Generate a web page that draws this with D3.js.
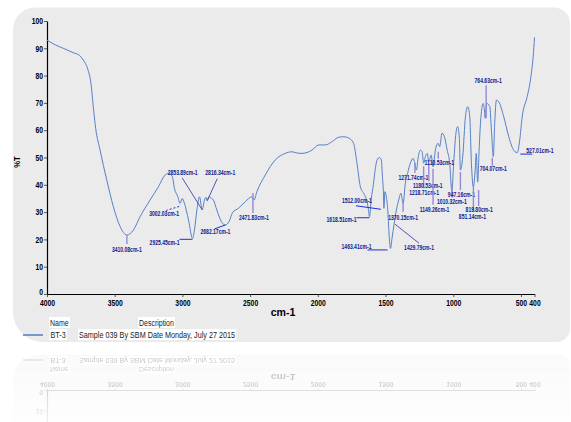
<!DOCTYPE html>
<html>
<head>
<meta charset="utf-8">
<script src="https://cdn.jsdelivr.net/npm/d3@7"></script>
<style>
  html, body { margin: 0; padding: 0; background: #ffffff; }
  svg { display: block; }
</style>
</head>
<body>
<svg id="chart" width="571" height="422"></svg>
<script>
// IR spectrum, sample BT-3: wavenumber (cm-1) and transmittance (%T)
const wavenumbers = [
  4000, 3940, 3880, 3806, 3760, 3732, 3700, 3675, 3655, 3640, 3608, 3559, 3510, 3460,
  3410.08, 3362, 3313, 3239, 3177, 3128, 3103, 3075, 3058, 3035, 3017, 3002.03, 2985,
  2955, 2925.45, 2910, 2893, 2874, 2853.89, 2837, 2826, 2816.34, 2805, 2790, 2771, 2746,
  2709, 2682.17, 2655, 2630, 2586, 2536, 2487, 2471.83, 2450, 2388, 2315, 2241, 2191,
  2150, 2117, 2043, 1994, 1945, 1895, 1847, 1810, 1768, 1736, 1711, 1686, 1662, 1640,
  1628, 1618.51, 1605, 1590, 1578, 1563, 1546, 1531, 1523, 1516, 1512, 1505, 1494, 1484,
  1474, 1463.41, 1452, 1438, 1420, 1403, 1386, 1370.15, 1354, 1337, 1317, 1297, 1284,
  1271.74, 1260, 1243, 1230, 1218.71, 1206, 1192, 1180.53, 1163, 1149.26, 1132, 1112,
  1100, 1083, 1065, 1045, 1026, 1010.32, 997, 977, 967, 955, 947.16, 930, 910, 893, 878,
  866, 851.14, 838, 830, 819.8, 808, 799, 779, 770, 764.63, 752, 730, 718, 704.07, 694,
  681, 664, 627, 590, 565, 548, 527.01, 510, 491, 454, 430, 410, 400
];
const transmittance = [
  93.0, 91.3, 90.0, 88.4, 87.4, 85.7, 82.5, 77.0, 67.0, 60.5, 52.7, 41.8, 32.0, 24.7,
  21.6, 23.4, 28.3, 34.4, 39.3, 43.6, 44.2, 43.0, 38.5, 35.8, 33.2, 35.0, 33.2,
  27.1, 20.4, 23.8, 30.8, 35.6, 30.8, 34.4, 35.4, 34.2, 35.6, 35.2, 34.4, 30.8,
  26.2, 25.3, 26.6, 29.8, 31.4, 33.8, 35.6, 34.4, 37.5, 43.6, 49.1, 51.5, 52.1,
  51.6, 51.5, 52.7, 54.6, 54.6, 55.8, 57.4, 57.6, 57.0, 55.2, 47.9, 39.3, 36.9, 34.4,
  31.5, 28.3, 35.0, 40.0, 45.0, 49.0, 50.0, 49.0, 43.0, 37.5, 31.4, 37.5, 35.5, 31.0,
  22.0, 16.7, 20.5, 25.2, 30.8, 34.4, 36.9, 33.2, 40.5, 44.2, 47.9, 49.7, 48.0,
  45.4, 49.7, 52.7, 52.2, 47.9, 50.3, 51.5, 48.5, 50.9, 46.6, 52.7, 55.2,
  54.0, 58.9, 57.6, 52.7, 47.9, 37.5, 47.9, 60.0, 61.3, 57.0, 45.4, 50.3, 64.9, 68.6, 64.9,
  47.9, 39.3, 45.4, 51.5, 41.0, 54.0, 62.5, 69.8, 67.4, 64.4, 69.8, 68.6, 60.0, 50.3, 62.5,
  71.0, 70.4, 64.9, 57.6, 53.8, 52.3, 51.8, 56.0, 64.9, 72.3, 78.4, 86.9, 94.0
];

const xTickValues = [4000, 3500, 3000, 2500, 2000, 1500, 1000, 500, 400];
const yTickValues = [0, 10, 20, 30, 40, 50, 60, 70, 80, 90, 100];

// Labelled peak positions (cm-1)
const peakWavenumbers = [
  3410.08, 3002.03, 2925.45, 2853.89, 2816.34, 2682.17, 2471.83, 1618.51, 1512.00,
  1463.41, 1429.79, 1370.15, 1271.74, 1218.71, 1180.53, 1149.26, 1110.53, 1010.32,
  947.16, 851.14, 819.80, 764.63, 704.07, 527.01
];

const legendNames = ["BT-3"];
const legendDescriptions = ["Sample 039 By SBM Date Monday, July 27 2015"];

// Placement of each peak label relative to its point on the curve:
// leader start [a], leader end [b], text position [t], anchor, leader kind
const peakLayout = [
  { a: [0, 0],    b: [0, 9],     t: [0, 14],     anchor: "middle", kind: "v" },
  { a: [-3, 8],   b: [-16, 12],  t: [-3, 15.5],  anchor: "end",    kind: "dash" },
  { a: [0, 1],    b: [-13, 1],   t: [-13, 4],    anchor: "end",    kind: "h" },
  { a: [0, 0],    b: [-20, -32], t: [-19.5, -37], anchor: "middle", kind: "d" },
  { a: [0, 0],    b: [10, -22],  t: [13, -28],   anchor: "middle", kind: "d" },
  { a: [0, 0],    b: [-11, 4],   t: [-10, 7],    anchor: "middle", kind: "h" },
  { a: [-1, -7],  b: [-1, 13],   t: [0, 17.5],   anchor: "middle", kind: "v" },
  { a: [0, 1],    b: [-13, 1],   t: [-13, 2.5],  anchor: "end",    kind: "h" },
  { a: [-3, 1],   b: [-28, -2.5], t: [-27, -7.5], anchor: "middle", kind: "h" },
  { a: [-3, 1.5], b: [-23, 1.5], t: [-34, -1.7], anchor: "middle", kind: "h" },
  { a: [0, 6],    b: [24, 25],   t: [24, 29],    anchor: "middle", kind: "d" },
  { a: [0, -1.5], b: [0, 8.5],   t: [0, 14.3],   anchor: "middle", kind: "v" },
  { a: [-1.5, -7], b: [-1.5, 3], t: [-3, 7.2],   anchor: "middle", kind: "v" },
  { a: [0, 3],    b: [0, 25],    t: [0.5, 29.5], anchor: "middle", kind: "v" },
  { a: [0, 2],    b: [0, 20],    t: [-1, 24],    anchor: "middle", kind: "v" },
  { a: [0, 2],    b: [0, 38],    t: [1.5, 42.5], anchor: "middle", kind: "v" },
  { a: [0, 8],    b: [0, 15],    t: [1, 18.5],   anchor: "middle", kind: "v" },
  { a: [0, -8],   b: [0, 6],     t: [0, 10],     anchor: "middle", kind: "v" },
  { a: [0, 2],    b: [0, 20],    t: [1, 24],     anchor: "middle", kind: "v" },
  { a: [0, -1],   b: [0, 25],    t: [-1, 29.3],  anchor: "middle", kind: "v" },
  { a: [1, 8],    b: [1, 24],    t: [1.5, 27.3], anchor: "middle", kind: "v" },
  { a: [1, 0],    b: [1, -33],   t: [3, -37.5],  anchor: "middle", kind: "v" },
  { a: [-1, 1],   b: [-1, 9],    t: [0, 12.3],   anchor: "middle", kind: "v" },
  { a: [3, 1.5],  b: [15, 1.5],  t: [9, -1.6],   anchor: "start",  kind: "h" }
];

const SANS = "'Liberation Sans',Arial,sans-serif";

// Squeeze text horizontally to a narrow face
function narrow(sel, factor) {
  sel.each(function () {
    const len = this.getComputedTextLength();
    d3.select(this).attr("textLength", len * factor).attr("lengthAdjust", "spacingAndGlyphs");
  });
}

const svg = d3.select("#chart");
const defs = svg.append("defs");

const x = d3.scaleLinear().domain([4000, 400]).range([47, 534.5]);
const y = d3.scaleLinear().domain([0, 100]).range([294, 21]);

// Everything that gets mirrored below the panel lives in this group
const scene = svg.append("g").attr("id", "scene");

function roundedPanel(x0, y0, w, h, rtl, rtr, rbr, rbl) {
  const x1 = x0 + w, y1 = y0 + h;
  return `M${x0 + rtl},${y0} H${x1 - rtr} A${rtr},${rtr} 0 0 1 ${x1},${y0 + rtr}` +
    ` V${y1 - rbr} A${rbr},${rbr} 0 0 1 ${x1 - rbr},${y1}` +
    ` H${x0 + rbl} A${rbl},${rbl} 0 0 1 ${x0},${y1 - rbl}` +
    ` V${y0 + rtl} A${rtl},${rtl} 0 0 1 ${x0 + rtl},${y0} Z`;
}

scene.append("path")
  .attr("d", roundedPanel(13, 7.5, 557, 334.5, 22, 16, 14, 30))
  .attr("fill", "#ebebeb");

// Axes
const xAxis = scene.append("g")
  .attr("transform", `translate(0,${y(0)})`)
  .call(d3.axisBottom(x).tickValues(xTickValues).tickFormat(d3.format("d"))
    .tickSize(3).tickSizeOuter(0).tickPadding(3));
const yAxis = scene.append("g")
  .attr("transform", `translate(${x(4000)},0)`)
  .call(d3.axisLeft(y).tickValues(yTickValues).tickFormat(d3.format("d"))
    .tickSize(3).tickSizeOuter(0).tickPadding(1));

[xAxis, yAxis].forEach(g => {
  g.selectAll("path.domain").attr("stroke", "#000").attr("stroke-width", 1.2);
  g.selectAll(".tick line").attr("stroke", "#333").attr("stroke-width", 0.8);
  g.selectAll(".tick text")
    .attr("fill", "#000")
    .style("font-family", SANS)
    .style("font-weight", "bold")
    .style("font-size", "8.5px")
    .call(narrow, 0.8);
});
// lift the zero label clear of the first wavenumber label
yAxis.selectAll(".tick text").filter(d => d === 0).attr("dy", "0.1em");

scene.append("text")
  .attr("x", 283).attr("y", 316)
  .attr("text-anchor", "middle")
  .style("font-family", SANS).style("font-weight", "bold").style("font-size", "11.5px")
  .attr("fill", "#000")
  .text("cm-1")
  .call(narrow, 0.92);

scene.append("text")
  .attr("transform", "translate(19.5,162) rotate(-90)")
  .attr("text-anchor", "middle")
  .style("font-family", SANS).style("font-weight", "bold").style("font-size", "9px")
  .attr("fill", "#000")
  .text("%T")
  .call(narrow, 0.85);

// Spectrum trace
const points = wavenumbers.map((w, i) => [w, transmittance[i]]);
scene.append("path")
  .datum(points)
  .attr("fill", "none")
  .attr("stroke", "#5580c8")
  .attr("stroke-width", 1)
  .attr("d", d3.line().x(d => x(d[0])).y(d => y(d[1])).curve(d3.curveMonotoneX));

// Transmittance on the trace at a given wavenumber (linear between samples)
function transmittanceAt(w) {
  for (let i = 0; i < wavenumbers.length - 1; i++) {
    const w0 = wavenumbers[i], w1 = wavenumbers[i + 1];
    if (w <= w0 && w >= w1) {
      const f = (w0 - w) / (w0 - w1);
      return transmittance[i] + f * (transmittance[i + 1] - transmittance[i]);
    }
  }
  return transmittance[transmittance.length - 1];
}

const leaderStyle = {
  v: { stroke: "#9588d8", width: 1.4, dash: null },
  h: { stroke: "#1a2fd6", width: 1, dash: null },
  d: { stroke: "#4a3db4", width: 0.9, dash: null },
  dash: { stroke: "#1a2fd6", width: 1, dash: "2,2" }
};

const peaks = scene.append("g");
peakWavenumbers.forEach((w, i) => {
  const L = peakLayout[i];
  const px = x(w), py = y(transmittanceAt(w));
  const st = leaderStyle[L.kind];
  peaks.append("line")
    .attr("x1", px + L.a[0]).attr("y1", py + L.a[1])
    .attr("x2", px + L.b[0]).attr("y2", py + L.b[1])
    .attr("stroke", st.stroke).attr("stroke-width", st.width)
    .attr("stroke-dasharray", st.dash);
  peaks.append("text")
    .attr("x", px + L.t[0]).attr("y", py + L.t[1])
    .attr("text-anchor", L.anchor)
    .attr("dominant-baseline", "central")
    .style("font-family", SANS).style("font-weight", "bold").style("font-size", "6.8px")
    .attr("fill", "#0e1890")
    .text(d3.format(".2f")(w) + "cm-1")
    .call(narrow, 0.74);
});

// Legend
const legend = scene.append("g");
function boxedText(g, tx, ty, str, size, factor) {
  const t = g.append("text")
    .attr("x", tx).attr("y", ty)
    .attr("dominant-baseline", "central")
    .style("font-family", SANS).style("font-size", size + "px")
    .attr("fill", "#222")
    .text(str)
    .call(narrow, factor);
  const bb = t.node().getBBox();
  g.insert("rect", () => t.node())
    .attr("x", bb.x - 1).attr("y", bb.y - 0.5)
    .attr("width", bb.width + 2).attr("height", bb.height + 1)
    .attr("fill", "#ffffff");
  return t;
}
boxedText(legend, 50, 322.5, "Name", 8.5, 0.82);
boxedText(legend, 139, 322.5, "Description", 8.5, 0.82);
legendNames.forEach((nm, i) => {
  const ly = 335 + i * 12;
  legend.append("line")
    .attr("x1", 23).attr("x2", 43).attr("y1", ly).attr("y2", ly)
    .attr("stroke", "#2f5fb8").attr("stroke-width", 1.2);
  boxedText(legend, 50.5, ly - 0.5, nm, 8.5, 0.85);
  boxedText(legend, 79, ly - 0.5, legendDescriptions[i], 8.5, 0.85);
});

// Faded mirror image below the panel
const grad = defs.append("linearGradient")
  .attr("id", "fade").attr("gradientUnits", "userSpaceOnUse")
  .attr("x1", 0).attr("y1", 343).attr("x2", 0).attr("y2", 422);
grad.append("stop").attr("offset", 0).attr("stop-color", "#fff").attr("stop-opacity", 0.32);
grad.append("stop").attr("offset", 1).attr("stop-color", "#fff").attr("stop-opacity", 0.06);
defs.append("mask").attr("id", "fadeMask")
  .attr("maskUnits", "userSpaceOnUse")
  .attr("x", 0).attr("y", 343).attr("width", 571).attr("height", 79)
  .append("rect").attr("x", 0).attr("y", 343).attr("width", 571).attr("height", 79)
  .attr("fill", "url(#fade)");
defs.append("clipPath").attr("id", "belowPanel")
  .append("rect").attr("x", 0).attr("y", 343).attr("width", 571).attr("height", 79);

svg.append("g")
  .attr("clip-path", "url(#belowPanel)")
  .attr("mask", "url(#fadeMask)")
  .append("use")
  .attr("href", "#scene")
  .attr("transform", "matrix(1,0,0,-0.75,0,611.25)");
</script>
</body>
</html>
